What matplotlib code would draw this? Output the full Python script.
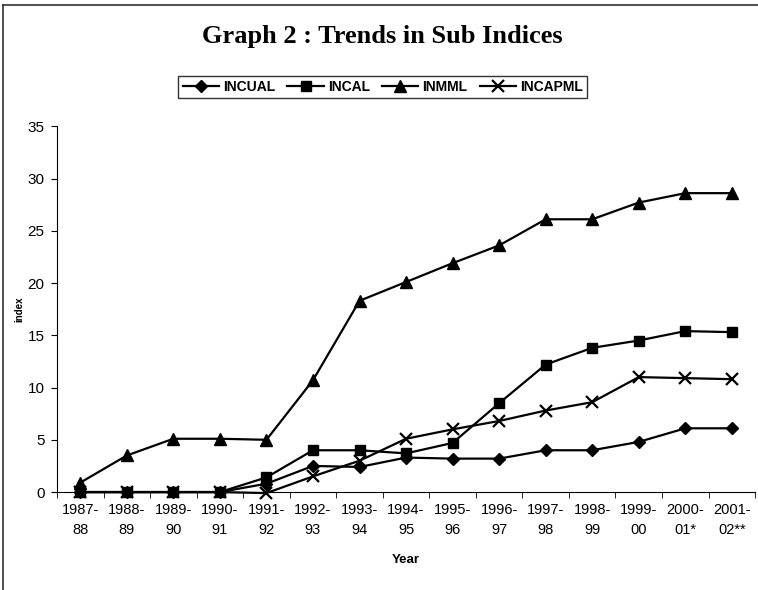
import matplotlib as mpl
mpl.use('Agg')
import matplotlib.pyplot as plt
from matplotlib.lines import Line2D

years = ['1987-\n88', '1988-\n89', '1989-\n90', '1990-\n91', '1991-\n92', '1992-\n93',
         '1993-\n94', '1994-\n95', '1995-\n96', '1996-\n97', '1997-\n98', '1998-\n99',
         '1999-\n00', '2000-\n01*', '2001-\n02**']

incual = [0, 0, 0, 0, 0.8, 2.5, 2.4, 3.3, 3.2, 3.2, 4.0, 4.0, 4.8, 6.1, 6.1]
incal = [0, 0, 0, 0, 1.4, 4.0, 4.0, 3.7, 4.7, 8.5, 12.2, 13.8, 14.5, 15.4, 15.3]
inmml = [0.9, 3.5, 5.1, 5.1, 5.0, 10.7, 18.3, 20.1, 21.9, 23.6, 26.1, 26.1, 27.7, 28.6, 28.6]
incapml = [0, 0, 0, 0, -0.1, 1.5, 3.0, 5.1, 6.0, 6.8, 7.8, 8.6, 11.0, 10.9, 10.8]

plt.rcParams['font.family'] = ['Liberation Sans', 'DejaVu Sans']

fig = plt.figure(figsize=(7.58, 5.90), dpi=100)
ax = fig.add_axes([0.0752, 0.166, 0.921, 0.620])

x = list(range(len(years)))
kw = dict(color='black', linewidth=1.6, clip_on=False)
ax.plot(x, incual, marker='D', markersize=6.5, label='INCUAL', **kw)
ax.plot(x, incal, marker='s', markersize=7.5, label='INCAL', **kw)
ax.plot(x, inmml, marker='^', markersize=8, label='INMML', **kw)
ax.plot(x, incapml, marker='x', markersize=8, markeredgewidth=1.6, label='INCAPML', **kw)

ax.set_xlim(-0.5, len(years) - 0.5)
ax.set_ylim(0, 35)
ax.set_yticks(range(0, 36, 5))
ax.set_xticks(x)
ax.set_xticklabels(years, fontsize=10.5, linespacing=1.55)
ax.set_xticks([i - 0.5 for i in range(len(years) + 1)], minor=True)
ax.tick_params(axis='x', which='major', length=0, pad=8)
ax.tick_params(axis='x', which='minor', length=4, direction='out')
ax.tick_params(axis='y', labelsize=11, length=4, pad=5)
for s in ['top', 'right']:
    ax.spines[s].set_visible(False)

ax.set_xlabel('Year', fontsize=9.5, fontweight='bold', labelpad=12)
ax.set_ylabel('index', fontsize=7, fontweight='bold')
ax.yaxis.set_label_coords(-0.047, 0.5)

fig.text(0.505, 0.938, 'Graph 2 : Trends in Sub Indices', ha='center', va='center',
         fontsize=19, fontweight='bold', family='Liberation Serif')

leg = fig.legend(loc='center', bbox_to_anchor=(0.505, 0.853), ncol=4, frameon=True,
                 fancybox=False, edgecolor='black', fontsize=10, handlelength=2.6,
                 handletextpad=0.3, columnspacing=0.9, borderpad=0.3)
for t in leg.get_texts():
    t.set_fontweight('bold')
leg.get_frame().set_linewidth(1.0)

# outer chart frame (top and left edges)
fig.add_artist(Line2D([0.004, 1.0], [0.991, 0.991], color='#555555', linewidth=1.5,
                      transform=fig.transFigure))
fig.add_artist(Line2D([0.004, 0.004], [0.0, 0.991], color='#333333', linewidth=1.2,
                      transform=fig.transFigure))

plt.savefig('out.png', dpi=100)
